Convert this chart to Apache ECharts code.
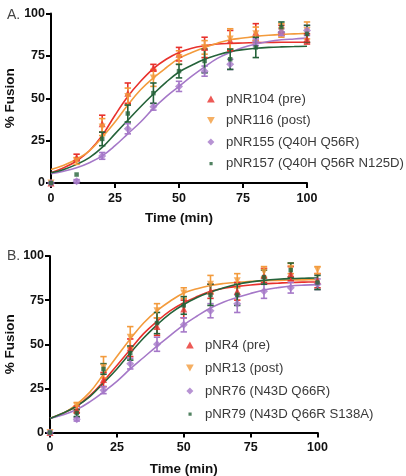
<!DOCTYPE html>
<html><head><meta charset="utf-8">
<script src="https://cdn.jsdelivr.net/npm/echarts@6/dist/echarts.min.js"></script>
<style>html,body{margin:0;padding:0;background:#fff}#c{width:406px;height:476px}</style>
</head><body><div id="c"></div>
<script>
// ---------- data ----------
const timePoints = [0,10,20,30,40,50,60,70,80,90,100];
const curveTimes = [0,5,10,15,20,25,30,35,40,45,50,55,60,65,70,75,80,85,90,95,100];
const yTicks = [0,25,50,75,100];

// Panel A
const aNames = ['pNR104 (pre)','pNR116 (post)','pNR155 (Q40H Q56R)','pNR157 (Q40H Q56R N125D)'];
const aPre   = [0,15,35,53,68,76,80,84,89,90,85];
const aPreErr= [0,2,5,6,2,4,6,6,5,3,3];
const aPost  = [0,13,33,51,62,74,80,85,88,90,90];
const aPostErr=[0,2,5,5,5,4,4,6,4,4,5];
const aQ     = [0,1,16,32,45,57,66,70,83,89,90];
const aQErr  = [0,1,2,3,2,3,3,3,2,2,3];
const aN     = [0,5,26,41,53,66,72,73,80,92,88];
const aNErr  = [0,0,4,5,6,4,7,6,6,3,5];
const aPreFit = [6,9,13,19,28,40,51,60,67.5,73,77,79.5,81,82,82.4,82.6,82.8,82.9,83,83,83];
const aPostFit= [8,10.5,14,19,27,36,46,55,62,68,73.5,77,80,82.5,84.5,85.5,86.5,87.2,87.7,88,88.3];
const aQFit   = [5.5,7,9,12,16,22,29,36,44,51,57,63,68.5,73.5,77,80,82,83.5,84.5,85,85.5];
const aNFit   = [6,8,11,15,21,29,37,45,52.5,59.5,65.5,69.5,73,75.5,77.5,78.7,79.5,80,80.3,80.5,80.7];

// Panel B
const bNames = ['pNR4 (pre)','pNR13 (post)','pNR76 (N43D Q66R)','pNR79 (N43D Q66R S138A)'];
const bPre   = [0,13,30,48,60,70,80,80,89,90,86];
const bPreErr= [0,2,4,5,5,5,4,5,4,4,4];
const bPost  = [0,15,37,54,69,79,84,86,91,93,92];
const bPostErr=[0,2,6,6,4,3,5,4,3,3,2];
const bQ     = [0,7.5,24,39,50,61,69,73,80,82,84];
const bQErr  = [0,1,2,3,4,4,4,5,4,3,3];
const bN     = [0,11,36,45,62,72,78,78,88,92,85];
const bNErr  = [0,2,3,4,6,5,6,6,4,4,4];
const bPreFit = [8,11,15,21,29,38,47,56,63,69,73.5,77,80,81.7,82.8,83.6,84.2,84.6,85,85.2,85.3];
const bPostFit= [8,11,16,23,33,43,53,62,69,74.5,79,81.5,83.3,84.4,85.1,85.6,86,86.2,86.4,86.5,86.6];
const bQFit   = [8,10,13,17.5,23,29,36,42.5,49,55,61,66,70.5,74,76.5,78.8,80.7,82,83,83.5,83.8];
const bNFit   = [8,11,15,20.5,28,36,45,53.5,61,67.5,72.5,76.5,79.5,82,84,85.3,86.2,86.8,87.2,87.4,87.5];

// ---------- styling ----------
const colors = ['#e8312c','#f39b3c','#a578c8','#25633a'];
const symbols = ['triangle','path://M0,0L10,0L5,10Z','diamond','rect'];
const symSizes = [7,7,8,4.5];
// legend icons (square drawn smaller inside its box)
const legendIcons = ['path://M5,0L10,9L0,9Z','path://M0,0L10,0L5,9Z','path://M5,0L10,5L5,10L0,5Z',
  'path://M0,0h0.01v0.01h-0.01z M3,3h4.5v4.5h-4.5z M9.99,9.99h0.01v0.01h-0.01z'];
const FONT = 'Liberation Sans, Arial, sans-serif';

function pairs(xs, ys){ return xs.map((x,i)=>[x, ys[i]]); }

function errSeries(gi, xs, ys, es, color){
  return {
    type:'custom', xAxisIndex:gi, yAxisIndex:gi, z:3, silent:true,
    data: xs.map((x,i)=>[x, ys[i], es[i]]),
    renderItem:(params, api)=>{
      const x=api.value(0), y=api.value(1), e=api.value(2);
      if(!e) return {type:'group', children:[]};
      const t=api.coord([x,y+e]), b=api.coord([x,y-e]);
      const hw=3.2, st={stroke:color, lineWidth:1.6};
      return {type:'group', children:[
        {type:'line', shape:{x1:t[0],y1:t[1],x2:b[0],y2:b[1]}, style:st},
        {type:'line', shape:{x1:t[0]-hw,y1:t[1],x2:t[0]+hw,y2:t[1]}, style:st},
        {type:'line', shape:{x1:b[0]-hw,y1:b[1],x2:b[0]+hw,y2:b[1]}, style:st}
      ]};
    }
  };
}

function panelSeries(gi, names, pts, errs, fits){
  const out=[];
  fits.forEach((f,k)=>out.push({type:'line', xAxisIndex:gi, yAxisIndex:gi, z:2, smooth:0.4,
    showSymbol:false, silent:true, data:pairs(curveTimes,f), lineStyle:{color:colors[k], width:1.6}}));
  errs.forEach((e,k)=>out.push(errSeries(gi, timePoints, pts[k], e, colors[k])));
  pts.forEach((p,k)=>out.push({type:'scatter', name:names[k], xAxisIndex:gi, yAxisIndex:gi, z:4,
    symbol:symbols[k], symbolSize:symSizes[k], data:pairs(timePoints,p), itemStyle:{color:colors[k]}}));
  return out;
}

function xAx(gi, gap){ return {type:'value', gridIndex:gi, min:0, max:100, interval:25,
  name:'Time (min)', nameLocation:'middle', nameGap:gap, nameMoveOverlap:false,
  nameTextStyle:{fontFamily:FONT, fontWeight:'bold', fontSize:13.5, color:'#111'},
  axisLine:{lineStyle:{color:'#000', width:2}}, axisTick:{length:5, lineStyle:{width:2,color:'#000'}},
  axisLabel:{fontFamily:FONT, fontWeight:'bold', fontSize:12.5, color:'#111', margin:9},
  splitLine:{show:false}}; }
function yAx(gi, gap){ return {type:'value', gridIndex:gi, min:0, max:100, interval:25,
  name:'% Fusion', nameLocation:'middle', nameGap:gap, nameMoveOverlap:false,
  nameTextStyle:{fontFamily:FONT, fontWeight:'bold', fontSize:13.5, color:'#111'},
  axisLine:{show:true, lineStyle:{color:'#000', width:2}}, axisTick:{show:true, length:5, lineStyle:{width:2,color:'#000'}},
  axisLabel:{fontFamily:FONT, fontWeight:'bold', fontSize:12.5, color:'#111', margin:6},
  splitLine:{show:false}}; }

function legend(names, left, top, gap){
  return {orient:'vertical', left:left, top:top, itemGap:gap, itemWidth:8, itemHeight:7,
    selectedMode:false, data:names.map((n,k)=>({name:n, icon:legendIcons[k]})),
    textStyle:{fontFamily:FONT, fontSize:13.2, color:'#3a3a3a', padding:[0,0,0,6], lineHeight:16}};
}

const chart = echarts.init(document.getElementById('c'), null, {renderer:'canvas'});
chart.setOption({
  animation:false,
  backgroundColor:'#fff',
  title:[
    {text:'A.', left:2, top:3, textStyle:{fontFamily:FONT, fontSize:14, fontWeight:'normal', color:'#444'}},
    {text:'B.', left:2, top:244, textStyle:{fontFamily:FONT, fontSize:14, fontWeight:'normal', color:'#444'}}
  ],
  grid:[
    {left:51, top:13.5, width:256, height:169.5, outerBoundsMode:'none', containLabel:false},
    {left:50, top:256, width:267.5, height:176.5, outerBoundsMode:'none', containLabel:false}
  ],
  xAxis:[xAx(0,28), xAx(1,30)],
  yAxis:[yAx(0,34), yAx(1,33)],
  legend:[legend(aNames, 202, 86, 5.5), legend(bNames, 181, 332, 7)],
  series:[].concat(
    panelSeries(0, aNames, [aPre,aPost,aQ,aN], [aPreErr,aPostErr,aQErr,aNErr], [aPreFit,aPostFit,aQFit,aNFit]),
    panelSeries(1, bNames, [bPre,bPost,bQ,bN], [bPreErr,bPostErr,bQErr,bNErr], [bPreFit,bPostFit,bQFit,bNFit])
  )
});
</script></body></html>
